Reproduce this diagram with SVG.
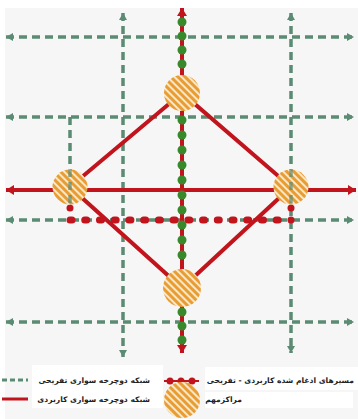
<svg xmlns="http://www.w3.org/2000/svg" width="358" height="419" viewBox="0 0 358 419">
<style>
.g{fill:none;stroke:#5b8b73;stroke-width:3.5;stroke-dasharray:8 5}
.r{fill:none;stroke:#c1141c;stroke-width:4}
.gd{fill:#38882c}
.rd{fill:#c1141c}
.t{font-family:"DejaVu Sans",sans-serif;font-size:7.6px;font-weight:bold;fill:#222}
.node{fill:url(#hatch)}
</style>
<defs>
<pattern id="hatch" patternUnits="userSpaceOnUse" width="5" height="5" patternTransform="rotate(-45)">
<rect x="0" y="0" width="5" height="5" fill="#fbe7c6"/>
<rect x="0" y="0" width="3" height="5" fill="#e89d34"/>
</pattern>
<marker id="ag" markerUnits="userSpaceOnUse" markerWidth="9" markerHeight="9" refX="7" refY="4.5" orient="auto-start-reverse">
<path d="M0,0.5 L7,4.5 L0,8.5 z" fill="#5b8b73"/>
</marker>
<marker id="ar" markerUnits="userSpaceOnUse" markerWidth="10" markerHeight="11" refX="8" refY="5.5" orient="auto-start-reverse">
<path d="M0,0.5 L8,5.5 L0,10.5 z" fill="#c1141c"/>
</marker>
</defs>
<rect x="0" y="0" width="358" height="419" fill="#ffffff"/>
<rect x="5" y="8" width="353" height="411" fill="#f6f6f6"/>
<g id="connectors">
<path class="g" d="M6,37 H354" marker-start="url(#ag)" marker-end="url(#ag)"/>
<path class="g" d="M6,117 H354" marker-start="url(#ag)" marker-end="url(#ag)"/>
<path class="g" d="M6,220 H354" marker-start="url(#ag)" marker-end="url(#ag)"/>
<path class="g" d="M6,322 H354" marker-start="url(#ag)" marker-end="url(#ag)"/>
<path class="g" d="M123,13 V357" marker-start="url(#ag)" marker-end="url(#ag)"/>
<path class="g" d="M291,13 V353" marker-start="url(#ag)" marker-end="url(#ag)"/>
<path class="g" d="M70,117 V187"/>
<path class="r" d="M6,190 H356" marker-start="url(#ar)" marker-end="url(#ar)"/>
<path class="r" d="M182,93 L70,187 L182,288 L291,187 Z"/>
<path class="r" d="M182,8 V353" marker-start="url(#ar)" marker-end="url(#ar)"/>
<g class="rd">
<circle cx="70" cy="208" r="3.5"/>
<circle cx="291" cy="208" r="3.5"/>
</g>
<path d="M70,220 H291" fill="none" stroke="#c1141c" stroke-width="7" stroke-linecap="round" stroke-dasharray="2 12.73"/>
<g class="gd">
<circle cx="182" cy="22" r="4.5"/><circle cx="182" cy="36" r="4.5"/><circle cx="182" cy="50" r="4.5"/><circle cx="182" cy="64" r="4.5"/>
<circle cx="182" cy="120" r="4.5"/><circle cx="182" cy="135" r="4.5"/><circle cx="182" cy="150" r="4.5"/><circle cx="182" cy="165" r="4.5"/><circle cx="182" cy="180" r="4.5"/><circle cx="182" cy="195" r="4.5"/><circle cx="182" cy="210" r="4.5"/><circle cx="182" cy="225" r="4.5"/><circle cx="182" cy="240" r="4.5"/><circle cx="182" cy="255" r="4.5"/>
<circle cx="182" cy="312" r="4.5"/><circle cx="182" cy="326" r="4.5"/><circle cx="182" cy="340" r="4.5"/>
</g>
</g>
<g id="node-top"><circle class="node" cx="182" cy="93" r="18"/></g>
<g id="node-left"><circle class="node" cx="70" cy="187" r="17.5"/></g>
<g id="node-right"><circle class="node" cx="291" cy="187" r="17.5"/></g>
<g id="node-bottom"><circle class="node" cx="182" cy="288" r="19"/></g>
<g id="overlay" opacity="0.7">
<path class="g" d="M70,170 V204" stroke-dashoffset="1"/>
<path class="g" d="M291,170 V204" stroke-dashoffset="1"/>
</g>
<g id="legend">
<rect x="32" y="365" width="131" height="43" fill="#ffffff"/>
<rect x="205" y="367" width="153" height="23" fill="#ffffff"/>
<rect x="205" y="392" width="148" height="16" fill="#ffffff"/>
<path d="M2,380 H28" fill="none" stroke="#5b8b73" stroke-width="3" stroke-dasharray="5 3"/>
<path d="M2,399 H28" fill="none" stroke="#c1141c" stroke-width="3"/>
<path d="M164,381 H199" fill="none" stroke="#c1141c" stroke-width="2"/>
<circle class="rd" cx="170" cy="381" r="3.5"/>
<circle class="rd" cx="181" cy="381" r="3.5"/>
<circle class="rd" cx="192" cy="381" r="3.5"/>
<circle class="node" cx="182" cy="400" r="18"/>
<text class="t" x="150" y="383" text-anchor="end">شبکه دوچرخه سواری تفریحی</text>
<text class="t" x="150" y="402" text-anchor="end">شبکه دوچرخه سواری کاربردی</text>
<text class="t" x="354" y="383" text-anchor="end">مسیرهای ادغام شده کاربردی - تفریحی</text>
<text class="t" x="242" y="402" text-anchor="end">مراکزمهم</text>
</g>
</svg>
